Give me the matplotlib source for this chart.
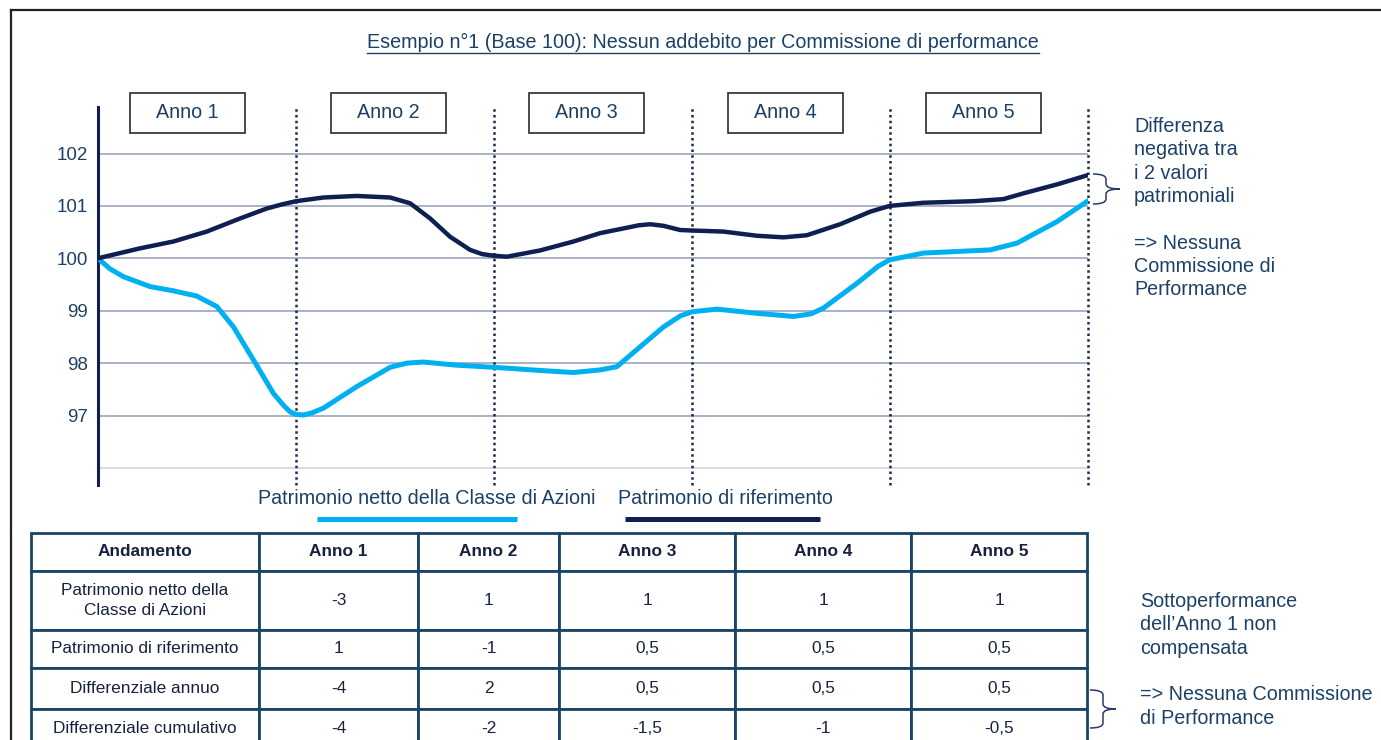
import matplotlib
matplotlib.use("Agg")
import matplotlib.pyplot as plt
from matplotlib import font_manager
from matplotlib.path import Path
from matplotlib.patches import PathPatch, Rectangle
from matplotlib.lines import Line2D

# ---------------- data ----------------
title = "Esempio n°1 (Base 100): Nessun addebito per Commissione di performance"
year_labels = ["Anno 1", "Anno 2", "Anno 3", "Anno 4", "Anno 5"]
year_bounds = [1, 2, 3, 4, 5]
y_ticks = [97, 98, 99, 100, 101, 102]
grid_values = [96, 97, 98, 99, 100, 101, 102]

# Patrimonio di riferimento (dark line)
ref_t = [0.0, 0.212, 0.38, 0.549, 0.717, 0.852, 0.93, 1.0, 1.138, 1.306, 1.475, 1.576,
         1.677, 1.778, 1.879, 1.94, 1.997, 2.064, 2.232, 2.40, 2.535, 2.653, 2.73, 2.788,
         2.855, 2.939, 3.0, 3.158, 3.327, 3.461, 3.579, 3.747, 3.899, 3.997, 4.168,
         4.421, 4.572, 4.673, 4.842, 5.0]
ref_v = [100.0, 100.19, 100.32, 100.51, 100.76, 100.95, 101.03, 101.09, 101.16, 101.19,
         101.16, 101.05, 100.76, 100.41, 100.16, 100.08, 100.05, 100.03, 100.15, 100.32,
         100.48, 100.57, 100.63, 100.65, 100.62, 100.54, 100.53, 100.51, 100.43, 100.40,
         100.44, 100.65, 100.89, 101.0, 101.06, 101.09, 101.13, 101.24, 101.41, 101.59]

# Patrimonio netto della Classe di Azioni (light line)
cls_t = [0.0, 0.06, 0.128, 0.263, 0.38, 0.498, 0.6, 0.684, 0.785, 0.886, 0.94, 0.97,
         1.0, 1.037, 1.08, 1.138, 1.306, 1.475, 1.56, 1.643, 1.812, 1.997, 2.232, 2.40,
         2.535, 2.619, 2.737, 2.855, 2.94, 3.0, 3.125, 3.327, 3.512, 3.60, 3.663, 3.831,
         3.94, 3.997, 4.168, 4.337, 4.505, 4.64, 4.842, 5.0]
cls_v = [100.0, 99.8, 99.65, 99.46, 99.38, 99.28, 99.08, 98.69, 98.06, 97.42, 97.18,
         97.07, 97.02, 97.01, 97.05, 97.14, 97.55, 97.92, 98.0, 98.02, 97.96, 97.92, 97.86,
         97.82, 97.87, 97.93, 98.31, 98.69, 98.9, 98.98, 99.03, 98.95, 98.89, 98.94, 99.05,
         99.52, 99.85, 99.97, 100.10, 100.13, 100.16, 100.29, 100.70, 101.10]

legend_labels = ["Patrimonio netto della Classe di Azioni", "Patrimonio di riferimento"]

note_top = "Differenza\nnegativa tra\ni 2 valori\npatrimoniali\n\n=> Nessuna\nCommissione di\nPerformance"
note_bottom = "Sottoperformance\ndell\u2019Anno 1 non\ncompensata\n\n=> Nessuna Commissione\ndi Performance"

table_header = ["Andamento", "Anno 1", "Anno 2", "Anno 3", "Anno 4", "Anno 5"]
row_labels = ["Patrimonio netto della\nClasse di Azioni", "Patrimonio di riferimento",
              "Differenziale annuo", "Differenziale cumulativo"]
class_perf = ["-3", "1", "1", "1", "1"]
ref_perf = ["1", "-1", "0,5", "0,5", "0,5"]
diff_annual = ["-4", "2", "0,5", "0,5", "0,5"]
diff_cum = ["-4", "-2", "-1,5", "-1", "-0,5"]

# ---------------- style ----------------
names = {f.name for f in font_manager.fontManager.ttflist}
FONT = "Liberation Sans Narrow" if "Liberation Sans Narrow" in names else "Liberation Sans"
plt.rcParams["font.family"] = [FONT, "DejaVu Sans"]

NAVY = "#0f1f52"
LIGHT = "#00b0f0"
TEXT = "#1d4166"
GRID = "#a3abc4"
TABLE_EDGE = "#1b4466"
FS = 14.2

W, H = 1381, 740
fig = plt.figure(figsize=(W / 100, H / 100), dpi=100)

# overlay axes in pixel coordinates
ov = fig.add_axes([0, 0, 1, 1])
ov.set_xlim(0, W)
ov.set_ylim(H, 0)
ov.axis("off")
ov.set_zorder(5)
ov.patch.set_alpha(0)

# ---------------- chart ----------------
x0, x1 = 98, 1088.3
ytop, ybot = 107, 485
ax = fig.add_axes([x0 / W, 1 - ybot / H, (x1 - x0) / W, (ybot - ytop) / H])
ax.set_xlim(0, 5)
ax.set_ylim(100 - (ybot - 258.3) / 52.4, 100 + (258.3 - ytop) / 52.4)
for s in ["top", "right", "bottom"]:
    ax.spines[s].set_visible(False)
ax.spines["left"].set_color(NAVY)
ax.spines["left"].set_linewidth(2.2)
ax.set_xticks([])
ax.set_yticks(y_ticks)
ax.set_yticklabels([str(v) for v in y_ticks])
ax.tick_params(axis="y", length=0, pad=7, labelsize=13.5, labelcolor=TEXT)

for g in grid_values:
    ax.axhline(g, color=GRID if g > 96 else "#d5d9e4", lw=1.3, zorder=1)
for b in year_bounds:
    ax.axvline(b, color="#1c2a4f", lw=1.8, ls=(0, (1, 1.3)), zorder=2, clip_on=False)

ax.plot(ref_t, ref_v, color=NAVY, lw=3.2, solid_joinstyle="round",
        solid_capstyle="round", zorder=4)
ax.plot(cls_t, cls_v, color=LIGHT, lw=3.6, solid_joinstyle="round",
        solid_capstyle="round", zorder=3)

# year boxes
box_left = [130, 331, 529, 728, 926]
for lbl, bl in zip(year_labels, box_left):
    ov.add_patch(Rectangle((bl, 93), 115, 40, fill=False, ec="#2b2b2b", lw=1.2))
    ov.text(bl + 57.5, 113, lbl, ha="center", va="center", fontsize=FS, color=TEXT)

# title with underline
t = ov.text(703, 42, title, ha="center", va="center", fontsize=14.2, color=TEXT)
fig.canvas.draw()
bb = t.get_window_extent(fig.canvas.get_renderer())
ov.plot([bb.x0, bb.x1], [H - bb.y0 + 1, H - bb.y0 + 1], color=TEXT, lw=1.0)

# legend
ov.text(427, 498, legend_labels[0], ha="center", va="center", fontsize=FS, color=TEXT)
ov.text(725, 498, legend_labels[1], ha="center", va="center", fontsize=FS, color=TEXT)
ov.plot([317, 517], [519, 519], color=LIGHT, lw=3.6, solid_capstyle="butt")
ov.plot([625, 820], [519, 519], color=NAVY, lw=3.6, solid_capstyle="butt")

# notes
ov.text(1134, 117, note_top, ha="left", va="top", fontsize=FS, color=TEXT, linespacing=1.29)
ov.text(1140, 592, note_bottom, ha="left", va="top", fontsize=FS, color=TEXT, linespacing=1.29)


def brace(xl, xm, xt, yt, yb):
    ym = (yt + yb) / 2
    r = min(5, (yb - yt) / 4)
    verts = [(xl, yt), (xm, yt), (xm, yt + r), (xm, ym - r), (xm, ym), (xt, ym),
             (xt, ym), (xm, ym), (xm, ym + r), (xm, yb - r), (xm, yb), (xl, yb)]
    codes = [Path.MOVETO, Path.CURVE3, Path.CURVE3, Path.LINETO, Path.CURVE3, Path.CURVE3,
             Path.MOVETO, Path.CURVE3, Path.CURVE3, Path.LINETO, Path.CURVE3, Path.CURVE3]
    ov.add_patch(PathPatch(Path(verts, codes), fill=False, ec="#2a3a66", lw=1.1))


brace(1093, 1106, 1120, 174, 204)
brace(1090, 1103, 1116, 690, 728)

# frame
ov.add_line(Line2D([11, 11], [10, 740], color="#222222", lw=1.6))
ov.add_line(Line2D([11, 1381], [10, 10], color="#222222", lw=1.6))

# ---------------- table ----------------
col_px = [31, 259, 418, 559, 735, 911, 1087]
row_px = [533, 571, 630, 668, 709, 748]
tax = fig.add_axes([col_px[0] / W, 1 - row_px[-1] / H,
                    (col_px[-1] - col_px[0]) / W, (row_px[-1] - row_px[0]) / H])
tax.axis("off")
body = [[row_labels[0]] + class_perf, [row_labels[1]] + ref_perf,
        [row_labels[2]] + diff_annual, [row_labels[3]] + diff_cum]
cells = [table_header] + body
tbl = tax.table(cellText=cells, cellLoc="center", bbox=[0, 0, 1, 1])
tbl.auto_set_font_size(False)
for (r, c), cell in tbl.get_celld().items():
    cell.set_width(col_px[c + 1] - col_px[c])
    cell.set_height(row_px[r + 1] - row_px[r])
    cell.set_edgecolor(TABLE_EDGE)
    cell.set_linewidth(2.0)
    cell.set_facecolor("white")
    txt = cell.get_text()
    txt.set_fontsize(12.4)
    txt.set_color("#17233d")
    txt.set_linespacing(1.35)
    if r == 0:
        txt.set_fontweight("bold")

fig.savefig("out.png", dpi=100)
